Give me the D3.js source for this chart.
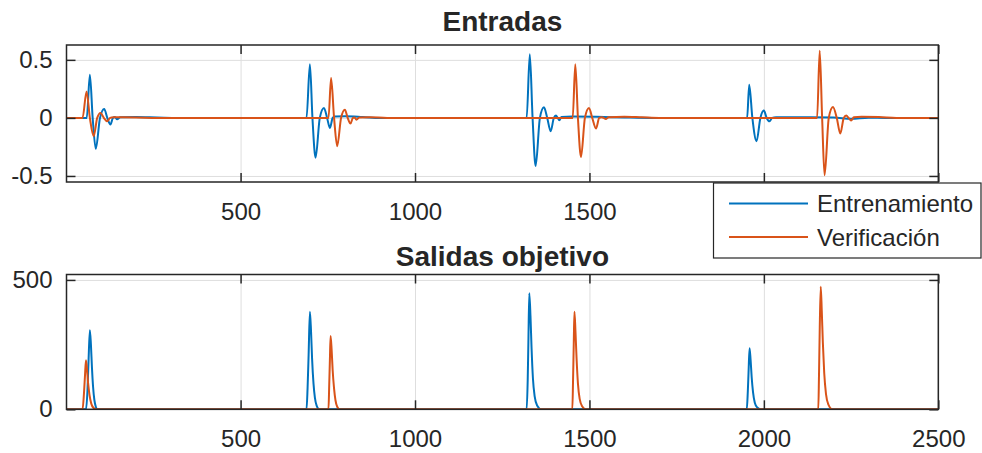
<!DOCTYPE html>
<html><head><meta charset="utf-8">
<script src="https://cdn.jsdelivr.net/npm/d3@7/dist/d3.min.js"></script>
<style>
body{margin:0;background:#fff}
svg{display:block}
text{font-family:"Liberation Sans",Arial,Helvetica,sans-serif;fill:#262626}
</style>
</head><body>
<svg id="c" width="982" height="453"></svg>
<script>
// ---------- data ----------
const xTicks = [500, 1000, 1500, 2000, 2500];
const inXLabelTicks = [500, 1000, 1500]; // 2000 and 2500 are hidden behind the legend
const inYTicks = [-0.5, 0, 0.5];
const outYTicks = [0, 500];
const seriesNames = ["Entrenamiento", "Verificación"];
const titles = ["Entradas", "Salidas objetivo"];
const xDomain = [1, 2500];
const inYDomain = [-0.552, 0.628];
const outYDomain = [0, 521];

// Entradas – Entrenamiento (blue) [sample, value]
const inTrain = [
  [1,0],[59,0],[68,0.371],[76,0],[85,-0.266],[97,0],[109,0.077],[118,0],[127,-0.057],[134,0],[140,0.008],[146,-0.012],[155,0.006],[200,0.008],[260,0.004],[320,0],
  [689,0],[698.7,0.463],[706,0],[715,-0.343],[727,0],[739,0.086],[748,0],[756,-0.086],[764,0],[770,0.012],[800,0.014],[850,0.008],[900,0],
  [1320,0],[1329,0.548],[1337,0],[1345.7,-0.414],[1358,0],[1369.6,0.091],[1379,0],[1388.8,-0.115],[1398,0],[1404,0.02],[1409,0],[1413.7,-0.02],[1420,0.008],[1450,0.012],[1520,0.01],[1600,0.004],[1680,0],
  [1952,0],[1958,0.285],[1967,0],[1979,-0.2],[1990,0],[2000,0.063],[2008,0],[2016,-0.029],[2024,0],[2035,0.006],[2100,0.006],[2200,0.004],[2250,-0.008],[2300,0.002],[2350,0],[2500,0]
];
// Entradas – Verificación (orange)
const inVerif = [
  [1,0],[47,0],[58.5,0.228],[68,0],[79,-0.157],[89,0],[98.6,0.043],[108,0],[117.6,-0.029],[126,0],[135,0.005],[200,0.004],[260,0],
  [752,0],[759.4,0.343],[768,0],[777,-0.243],[788,0],[799,0.071],[807,0],[815,-0.049],[822,0],[827,0.004],[832,-0.015],[840,0.004],[870,0.006],[920,0],
  [1452,0],[1459.4,0.463],[1467,0],[1475.8,-0.337],[1487,0],[1498.7,0.086],[1508,0],[1518.8,-0.092],[1528,0],[1535,0.006],[1541,0],[1547,-0.01],[1555,0.006],[1600,0.01],[1650,0.005],[1700,0],
  [2152.6,0],[2160,0.579],[2167,0],[2174,-0.494],[2186,0],[2198,0.094],[2209,0],[2219,-0.135],[2229,0],[2236,0.02],[2243,0],[2250,-0.023],[2258,0.005],[2280,0.01],[2330,0.008],[2380,0],[2500,0]
];
// Salidas objetivo – Entrenamiento (blue)
const outTrain = [
  [1,0],[57,0],[61,70],[64,180],[68,306],[71,250],[74,160],[77,90],[81,35],[85,10],[90,0],
  [689,0],[692,80],[695,210],[698.7,377],[702,300],[705,195],[709,100],[713,45],[718,14],[725,0],
  [1320,0],[1323,110],[1325,260],[1327.6,449],[1331,360],[1334,240],[1338,120],[1343,50],[1350,15],[1362,0],
  [1951,0],[1954,70],[1956,140],[1959,236],[1962,190],[1965,125],[1969,65],[1974,25],[1981,7],[1990,0],[2500,0]
];
// Salidas objetivo – Verificación (orange)
const outVerif = [
  [1,0],[47,0],[51,60],[54,130],[56.8,190],[60,150],[63,100],[67,55],[72,22],[78,6],[87,0],
  [752,0],[754,90],[756,190],[758,283],[761,230],[764,150],[768,80],[772,35],[777,10],[784,0],
  [1451,0],[1453,110],[1455,250],[1457,377],[1460,300],[1463,200],[1467,100],[1472,40],[1479,12],[1490,0],
  [2156,0],[2158,130],[2160,300],[2163,474],[2166,380],[2169,260],[2173,140],[2178,60],[2185,18],[2196,0],[2500,0]
];

// ---------- drawing ----------
const colors = ["#0072BD", "#D95319"];
const axCol = "#262626";
const gridCol = "#dedede";
const svg = d3.select("#c");
const L = 66.5, R = 938.3;
const panels = [
  {top: 45, bottom: 182, yDom: inYDomain, yTicks: inYTicks, xLabels: inXLabelTicks, series: [inTrain, inVerif], title: titles[0], titleY: 31},
  {top: 274.5, bottom: 409.3, yDom: outYDomain, yTicks: outYTicks, xLabels: xTicks, series: [outTrain, outVerif], title: titles[1], titleY: 265.7}
];
const x = d3.scaleLinear().domain(xDomain).range([L, R]);

panels.forEach(p => {
  const y = d3.scaleLinear().domain(p.yDom).range([p.bottom, p.top]);
  const g = svg.append("g");
  const h = p.bottom - p.top, w = R - L;
  // grid
  const gx = g.append("g").attr("transform", `translate(0,${p.bottom})`)
    .call(d3.axisBottom(x).tickValues(xTicks).tickSize(-h).tickFormat(""));
  gx.select(".domain").remove();
  gx.selectAll("line").attr("stroke", gridCol).attr("stroke-width", 1);
  const gy = g.append("g").attr("transform", `translate(${L},0)`)
    .call(d3.axisLeft(y).tickValues(p.yTicks).tickSize(-w).tickFormat(""));
  gy.select(".domain").remove();
  gy.selectAll("line").attr("stroke", gridCol).attr("stroke-width", 1);
  // clip
  const cid = "clip" + Math.round(p.top);
  svg.append("clipPath").attr("id", cid).append("rect").attr("x", L).attr("y", p.top).attr("width", w).attr("height", h);
  const line = d3.line().x(d => x(d[0])).y(d => y(d[1])).curve(d3.curveMonotoneX);
  p.series.forEach((s, i) => {
    g.append("path").attr("clip-path", `url(#${cid})`).attr("d", line(s))
      .attr("fill", "none").attr("stroke", colors[i]).attr("stroke-width", 2).attr("stroke-linejoin", "round");
  });
  // axes (inward ticks, all four sides)
  const fontSize = 24;
  const ab = g.append("g").attr("transform", `translate(0,${p.bottom})`)
    .call(d3.axisBottom(x).tickValues(xTicks).tickSize(-9).tickPadding(21)
      .tickFormat(d => p.xLabels.includes(d) ? String(d) : ""));
  const at = g.append("g").attr("transform", `translate(0,${p.top})`)
    .call(d3.axisTop(x).tickValues(xTicks).tickSize(-9).tickFormat(""));
  const al = g.append("g").attr("transform", `translate(${L},0)`)
    .call(d3.axisLeft(y).tickValues(p.yTicks).tickSize(-9).tickPadding(14)
      .tickFormat(d => d < 0 ? "-" + Math.abs(d) : String(d)));
  const ar = g.append("g").attr("transform", `translate(${R},0)`)
    .call(d3.axisRight(y).tickValues(p.yTicks).tickSize(-9).tickFormat(""));
  [ab, at, al, ar].forEach(a => {
    a.select(".domain").remove();
    a.selectAll("line").attr("stroke", axCol).attr("stroke-width", 1.5);
    a.selectAll("text").attr("font-size", fontSize).attr("fill", axCol)
      .attr("font-family", '"Liberation Sans",Arial,sans-serif');
    a.selectAll("text").filter(function(){ return this.textContent === ""; }).remove();
  });
  g.append("rect").attr("x", L).attr("y", p.top).attr("width", w).attr("height", h)
    .attr("fill", "none").attr("stroke", axCol).attr("stroke-width", 1.5);
  // title
  svg.append("text").attr("x", (L + R) / 2).attr("y", p.titleY).attr("text-anchor", "middle")
    .attr("font-size", 28).attr("font-weight", "bold").attr("fill", "#000").text(p.title);
});

// legend
const lg = svg.append("g");
lg.append("rect").attr("x", 713.5).attr("y", 183).attr("width", 267.5).attr("height", 75)
  .attr("fill", "#fff").attr("stroke", axCol).attr("stroke-width", 1.2);
seriesNames.forEach((n, i) => {
  const yy = 203.5 + i * 33.5;
  lg.append("line").attr("x1", 729).attr("x2", 808).attr("y1", yy).attr("y2", yy)
    .attr("stroke", colors[i]).attr("stroke-width", 2);
  lg.append("text").attr("x", 817).attr("y", yy + 8.5).attr("font-size", 24).attr("fill", "#000").text(n);
});
</script>
</body></html>
